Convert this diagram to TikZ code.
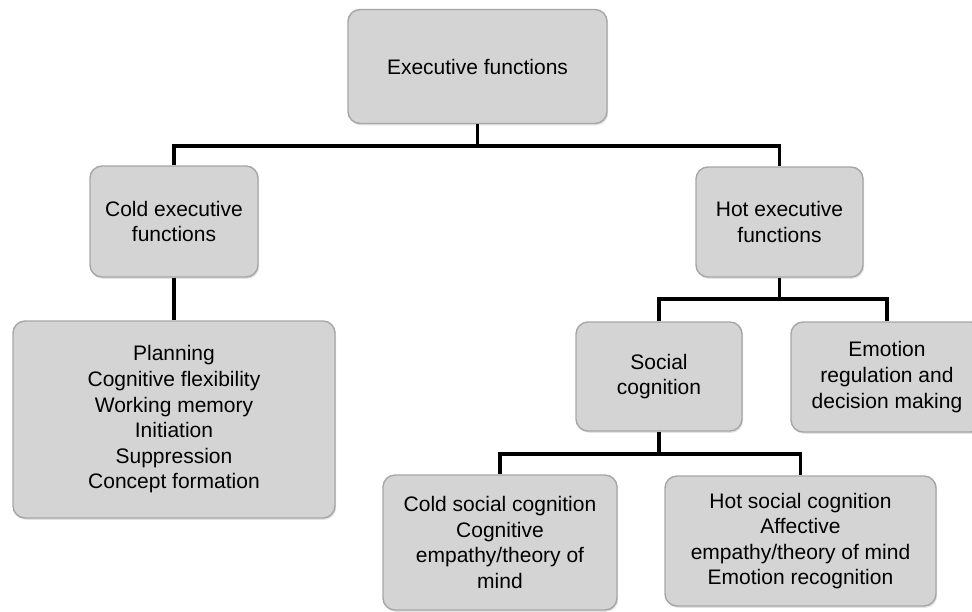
\documentclass[tikz,border=0pt]{standalone}
\usepackage{fontspec}
\setmainfont{Liberation Sans}
\usetikzlibrary{shadows}
\definecolor{boxfill}{HTML}{D4D4D4}
\definecolor{boxline}{HTML}{A6A6A6}
\tikzset{
  efbox/.style={draw=boxline, line width=1.4pt, fill=boxfill, rounded corners=12pt,
    align=center, inner sep=0pt,
    font=\fontsize{21}{25.6}\selectfont,
    drop shadow={opacity=0.22, shadow xshift=1.2pt, shadow yshift=-1.8pt}},
  conn/.style={draw=black, line width=3.6pt, line cap=butt, line join=miter}
}
\begin{document}
\begin{tikzpicture}[x=1pt, y=-1pt]
  \clip (0,0) rectangle (972,611);
  \fill[white] (0,0) rectangle (972,611);

  % bus lines of the tree
  \coordinate (busA) at (0,146);
  \coordinate (busB) at (0,299);
  \coordinate (busC) at (0,454);

  % boxes
  \node[efbox, minimum width=259pt, minimum height=114pt] (top) at (477.5,66.5) {Executive functions};
  \node[efbox, minimum width=168pt, minimum height=111pt] (cold) at (174,221.5) {Cold executive\\functions};
  \node[efbox, minimum width=322pt, minimum height=197pt] (list) at (174,419.5)
    {Planning\\Cognitive flexibility\\Working memory\\Initiation\\Suppression\\Concept formation};
  \node[efbox, minimum width=167pt, minimum height=110pt] (hot) at (779.5,222) {Hot executive\\functions};
  \node[efbox, minimum width=166pt, minimum height=109pt] (social) at (659,376.5) {Social\\cognition};
  \node[efbox, minimum width=192pt, minimum height=110pt] (emo) at (887,377)
    {Emotion\\regulation and\\decision making};
  \node[efbox, minimum width=234pt, minimum height=135pt] (csoc) at (500,542.5)
    {Cold social cognition\\Cognitive\\empathy/theory of\\mind};
  \node[efbox, minimum width=271pt, minimum height=130pt] (hsoc) at (800.5,541)
    {Hot social cognition\\Affective\\empathy/theory of mind\\Emotion recognition};

  % connectors
  \draw[conn] (top.south) -- (top.south |- busA);
  \draw[conn] (cold.north) -- (cold.north |- busA) -- (hot.north |- busA) -- (hot.north);
  \draw[conn] (cold.south) -- (list.north);
  \draw[conn] (hot.south) -- (hot.south |- busB);
  \draw[conn] (social.north) -- (social.north |- busB) -- (emo.north |- busB) -- (emo.north);
  \draw[conn] (social.south) -- (social.south |- busC);
  \draw[conn] (csoc.north) -- (csoc.north |- busC) -- (hsoc.north |- busC) -- (hsoc.north);
\end{tikzpicture}
\end{document}
